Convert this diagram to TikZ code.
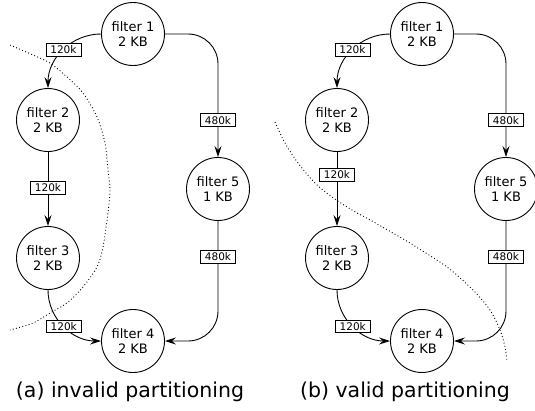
\documentclass[tikz,border=0pt]{standalone}
\usepackage{fontspec}
\setmainfont{DejaVu Sans}
\usetikzlibrary{arrows.meta}
\begin{document}
\begin{tikzpicture}[x=1pt,y=-1pt,
  filt/.style={circle, draw, line width=0.9pt, minimum size=63pt, inner sep=0pt, align=center, font=\fontsize{13}{15}\selectfont},
  lab/.style={draw, fill=white, sharp corners, line width=0.7pt, inner xsep=4.5pt, inner ysep=2.3pt, font=\fontsize{10.5}{12}\selectfont},
  edge/.style={line width=0.9pt, -{Stealth[length=11pt,width=7pt,inset=4pt]}},
  part/.style={line width=0.9pt, dash pattern=on 0.9pt off 2.4pt},
  captext/.style={anchor=base, font=\fontsize{20.5}{24}\selectfont}]
\useasboundingbox (0,0) rectangle (535,410);
\clip (0,0) rectangle (535,410);
% left panel
\node[filt] (a1) at (133,34) {filter 1\\2 KB};
\node[filt] (a2) at (48,120) {filter 2\\2 KB};
\node[filt] (a3) at (48,258) {filter 3\\2 KB};
\node[filt] (a4) at (133,341) {filter 4\\2 KB};
\node[filt] (a5) at (218,189) {filter 5\\1 KB};
\draw[edge] (a1.west) to[out=180,in=90] node[lab]{120k} (a2.north);
\draw[edge] (a2) -- node[lab,pos=0.48]{120k} (a3);
\draw[edge] (a3.south) to[out=-90,in=180] node[lab]{120k} (a4.west);
\draw[edge, rounded corners=30pt] (a1.east) -| node[lab,pos=0.85]{480k} (a5.north);
\draw[edge, rounded corners=30pt] (a5.south) |- node[lab,pos=0.15]{480k} (a4.east);
\draw[part] plot[smooth] coordinates {(10,45) (33,55) (50,63) (67,77) (83,93) (97,117) (105,143) (108,170) (110,189) (108,213) (103,247) (97,267) (83,287) (67,303) (50,313) (33,323) (10,330)};
\node[captext] (ca) at (130,397) {(a) invalid partitioning};
% right panel
\node[filt] (b1) at (422,34) {filter 1\\2 KB};
\node[filt] (b2) at (337,120) {filter 2\\2 KB};
\node[filt] (b3) at (337,258) {filter 3\\2 KB};
\node[filt] (b4) at (422,341) {filter 4\\2 KB};
\node[filt] (b5) at (506,189) {filter 5\\1 KB};
\draw[edge] (b1.west) to[out=180,in=90] node[lab]{120k} (b2.north);
\draw[edge] (b2) -- node[lab,pos=0.31]{120k} (b3);
\draw[edge] (b3.south) to[out=-90,in=180] node[lab]{120k} (b4.west);
\draw[edge, rounded corners=30pt] (b1.east) -| node[lab,pos=0.85]{480k} (b5.north);
\draw[edge, rounded corners=30pt] (b5.south) |- node[lab,pos=0.15]{480k} (b4.east);
\draw[part] plot[smooth] coordinates {(275,122) (285,143) (298,163) (315,183) (332,197) (352,210) (372,221) (398,236) (413,245) (447,267) (473,290) (490,310) (500,330) (505,347) (507,362)};
\node[captext] (cb) at (405,397) {(b) valid partitioning};
\end{tikzpicture}
\end{document}
